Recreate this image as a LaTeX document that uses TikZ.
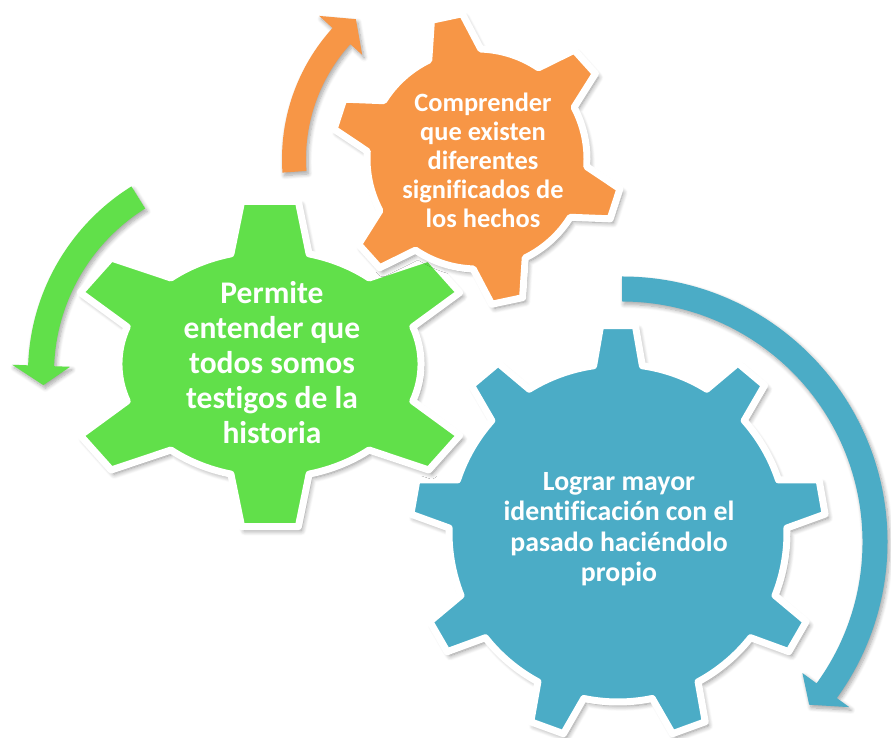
\documentclass[tikz,border=0pt]{standalone}
\usepackage{fontspec}
\setmainfont{Carlito}[Ligatures=NoCommon]
\usetikzlibrary{shadows.blur}
\definecolor{gearblue}{RGB}{75,172,198}
\definecolor{gearorange}{RGB}{247,150,70}
\definecolor{geargreen}{RGB}{97,224,74}

\begin{document}
\begin{tikzpicture}[x=1pt,y=1pt]
         \tikzset{gear/.style={draw=white,line width=7pt,line join=round,
                  blur shadow={shadow xshift=3pt,shadow yshift=-4pt,shadow opacity=45,shadow blur radius=5pt,shadow blur steps=8}}}
         \tikzset{turnarrow/.style={blur shadow={shadow xshift=2pt,shadow yshift=-3pt,shadow opacity=35,shadow blur radius=4pt,shadow blur steps=8}}}
         \tikzset{gearlabel/.style={text=white,align=center}}
         \useasboundingbox (0,0) rectangle (891,738);
         \begin{scope}[shift={(248,365)}]
         \path[turnarrow,fill=geargreen] (122:220) arc[start angle=122,end angle=178,radius=220]
              -- (178:236) -- (183.4:205) -- (178:178) -- (178:194)
              arc[start angle=178,end angle=122,radius=194] -- cycle;
         \end{scope}
         \begin{scope}[shift={(477,579)}]
         \path[turnarrow,fill=gearorange] (184:195) arc[start angle=184,end angle=137.8,radius=195]
              -- (137.8:213) -- (130.9:185) -- (137.8:155) -- (137.8:171)
              arc[start angle=137.8,end angle=184,radius=171] -- cycle;
         \end{scope}
         \begin{scope}[shift={(622,196)}]
         \path[turnarrow,fill=gearblue] (90:265.5) arc[start angle=90,end angle=-36,radius=265.5]
              -- (-36:281) -- (-41:248) -- (-36:223) -- (-36:240.5)
              arc[start angle=-36,end angle=90,radius=240.5] -- cycle;
         \end{scope}
         \begin{scope}[shift={(618,205)}]
         \path[gear,fill=gearblue] (81.7:169) \foreach \i [evaluate=\i as \a using 90+40*\i] in {0,...,8}
              { -- ({\a-4.8}:208) -- ({\a+4.8}:208) -- ({\a+8.3}:169)
                arc[start angle={\a+8.3},end angle={\a+31.7},radius=169] } -- cycle;
         \end{scope}
         \begin{scope}[shift={(270,374)},xscale=1.325]
         \path[gear,fill=geargreen] (19:114) \foreach \a/\b/\R in {34/90/160,90/146/164,146/214/160,214/270/160,270/326/164,326/394/160}
              { -- ({\a-7.5}:\R) -- ({\a+7.5}:\R) -- ({\a+15}:114)
                arc[start angle={\a+15},end angle={\b-15},radius=114] } -- cycle;
         \end{scope}
         \begin{scope}[shift={(477,579)}]
         \path[gear,fill=gearorange] (88:110) \foreach \i [evaluate=\i as \a using 102+60*\i] in {0,...,5}
              { -- ({\a-6.2}:146) -- ({\a+6.2}:146) -- ({\a+14}:110)
                arc[start angle={\a+14},end angle={\a+46},radius=110] } -- cycle;
         \end{scope}
         \node[gearlabel,font=\fontsize{31.5}{35}\selectfont\bfseries] (permite) at (272,375)
              {Permite\\entender que\\todos somos\\testigos de la\\historia};
         \node[gearlabel,font=\fontsize{26.4}{29}\selectfont\bfseries] (comprender) at (483,578)
              {Comprender\\que existen\\diferentes\\significados de\\los hechos};
         \node[gearlabel,font=\fontsize{27.8}{30.5}\selectfont\bfseries] (lograr) at (619,209)
              {Lograr mayor\\identificación con el\\pasado haciéndolo\\propio};
      \end{tikzpicture}
\end{document}
